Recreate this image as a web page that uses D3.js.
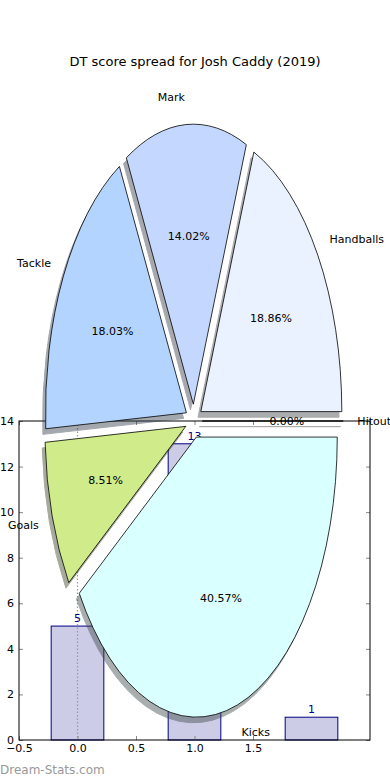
<!DOCTYPE html>
<html>
<head>
<meta charset="utf-8">
<script src="https://cdn.jsdelivr.net/npm/d3@7"></script>
<style>
  body { margin: 0; background: #fff; }
  svg { display: block; font-family: "DejaVu Sans", sans-serif; }
</style>
</head>
<body>
<div id="chart"></div>
<script>
// pie data (share of DT score, %)
var sliceLabels = ['Hitout', 'Handballs', 'Mark', 'Tackle', 'Goals', 'Kicks'];
var sliceShares = [0, 18.86, 14.02, 18.03, 8.51, 40.57];
var sliceColors = ['#ffe4e4', '#eaf1ff', '#c4d8ff', '#b3d4ff', '#d0eb8a', '#d9ffff'];

// bar data
var barX = [0, 1, 2];
var barValues = [5, 13, 1];
var xTicks = [-0.5, 0, 0.5, 1, 1.5];
var yTicks = [0, 2, 4, 6, 8, 10, 12, 14];

var width = 390, height = 780;
var svg = d3.select('#chart').append('svg').attr('width', width).attr('height', height);

svg.append('text')
    .attr('x', 195).attr('y', 66)
    .attr('text-anchor', 'middle')
    .attr('font-size', 13)
    .text('DT score spread for Josh Caddy (2019)');

//---- bar axes (drawn first, pie goes on top)
var x = d3.scaleLinear().domain([-0.5, 2.5]).range([19, 370]);
var y = d3.scaleLinear().domain([0, 14]).range([740, 421]);
var barW = 0.45;

var bars = svg.append('g');

bars.selectAll('rect.bar')
    .data(barValues)
    .enter()
    .append('rect')
    .attr('class', 'bar')
    .attr('x', function (d, i) { return x(barX[i] - barW / 2); })
    .attr('width', function () { return x(barW) - x(0); })
    .attr('y', function (d) { return y(d); })
    .attr('height', function (d) { return y(0) - y(d); })
    .attr('fill', '#ccccE6')
    .attr('stroke', '#000080')
    .attr('stroke-width', 1);

// dotted line at x=0
bars.append('line')
    .attr('x1', x(0)).attr('x2', x(0))
    .attr('y1', y(14)).attr('y2', y(0))
    .attr('stroke', '#999').attr('stroke-width', 1.2).attr('stroke-dasharray', '1.5,2');

bars.selectAll('text.val')
    .data(barValues)
    .enter()
    .append('text')
    .attr('class', 'val')
    .attr('x', function (d, i) { return x(barX[i]); })
    .attr('y', function (d) { return y(d) - 4; })
    .attr('text-anchor', 'middle')
    .attr('font-size', 11)
    .attr('fill', '#000080')
    .text(function (d) { return d; });

function styleAxis(g) {
    g.select('.domain').remove();
    g.selectAll('.tick line').attr('stroke', '#888');
    g.selectAll('.tick text').attr('font-size', 11).attr('font-family', '"DejaVu Sans", sans-serif').attr('fill', '#000');
}

var fmtX = function (d) { return d3.format('.1f')(d).replace('-', '\u2212'); };

svg.append('g').attr('transform', 'translate(0,' + y(0) + ')')
    .call(d3.axisBottom(x).tickValues(xTicks).tickFormat(fmtX).tickSizeInner(-4).tickSizeOuter(0).tickPadding(4))
    .call(styleAxis);
svg.append('g').attr('transform', 'translate(0,' + y(14) + ')')
    .call(d3.axisTop(x).tickValues(xTicks).tickFormat('').tickSizeInner(-4).tickSizeOuter(0))
    .call(styleAxis);
svg.append('g').attr('transform', 'translate(' + x(-0.5) + ',0)')
    .call(d3.axisLeft(y).tickValues(yTicks).tickSizeInner(-4).tickSizeOuter(0).tickPadding(5))
    .call(styleAxis);
svg.append('g').attr('transform', 'translate(' + x(2.5) + ',0)')
    .call(d3.axisRight(y).tickValues(yTicks).tickFormat('').tickSizeInner(-4).tickSizeOuter(0))
    .call(styleAxis);

svg.append('rect')
    .attr('x', x(-0.5)).attr('y', y(14))
    .attr('width', x(2.5) - x(-0.5)).attr('height', y(0) - y(14))
    .attr('fill', 'none').attr('stroke', '#000').attr('stroke-width', 1);

//---- pie (elliptical, exploded, with shadow)
var cx = 193.8, cy = 421, rx = 141, ry = 280;
var explode = 0.06, labelDist = 1.1, pctDist = 0.6;
var total = d3.sum(sliceShares);

var pie = d3.pie().sort(null).value(function (d) { return d; })
    .startAngle(Math.PI / 2).endAngle(Math.PI / 2 - 2 * Math.PI);
var arcs = pie(sliceShares);
var arc = d3.arc().innerRadius(0).outerRadius(1);

arcs.forEach(function (a) {
    var mid = (a.startAngle + a.endAngle) / 2;
    a.ux = Math.sin(mid);
    a.uy = -Math.cos(mid);
    a.ox = cx + explode * rx * a.ux;
    a.oy = cy + explode * ry * a.uy;
});

function shade(c) {
    var r = d3.rgb(c);
    return d3.rgb(r.r * 0.3, r.g * 0.3, r.b * 0.3).toString();
}

var pieG = svg.append('g');

pieG.selectAll('path.shadow')
    .data(arcs)
    .enter()
    .append('path')
    .attr('class', 'shadow')
    .attr('transform', function (a) {
        return 'translate(' + (a.ox - 0.02 * rx) + ',' + (a.oy + 0.02 * ry) + ') scale(' + rx + ',' + ry + ')';
    })
    .attr('d', arc)
    .attr('fill', function (a, i) { return shade(sliceColors[i]); })
    .attr('stroke', function (a, i) { return shade(sliceColors[i]); })
    .attr('vector-effect', 'non-scaling-stroke')
    .attr('opacity', 0.45);

pieG.selectAll('path.wedge')
    .data(arcs)
    .enter()
    .append('path')
    .attr('class', 'wedge')
    .attr('transform', function (a) {
        return 'translate(' + a.ox + ',' + a.oy + ') scale(' + rx + ',' + ry + ')';
    })
    .attr('d', arc)
    .attr('fill', function (a, i) { return sliceColors[i]; })
    .attr('stroke', '#000')
    .attr('stroke-width', 0.8)
    .attr('vector-effect', 'non-scaling-stroke');

pieG.selectAll('text.lbl')
    .data(arcs)
    .enter()
    .append('text')
    .attr('class', 'lbl')
    .attr('x', function (a) { return a.ox + labelDist * rx * a.ux; })
    .attr('y', function (a) { return a.oy + labelDist * ry * a.uy; })
    .attr('dy', '0.35em')
    .attr('text-anchor', function (a) { return a.ux > 0 ? 'start' : 'end'; })
    .attr('font-size', 11)
    .text(function (a, i) { return sliceLabels[i]; });

pieG.selectAll('text.pct')
    .data(arcs)
    .enter()
    .append('text')
    .attr('class', 'pct')
    .attr('x', function (a) { return a.ox + pctDist * rx * a.ux; })
    .attr('y', function (a) { return a.oy + pctDist * ry * a.uy; })
    .attr('dy', '0.35em')
    .attr('text-anchor', 'middle')
    .attr('font-size', 11)
    .text(function (a) { return d3.format('.2f')(a.value / total * 100) + '%'; });

svg.append('text')
    .attr('x', 0).attr('y', 774)
    .attr('font-size', 12)
    .attr('fill', '#999')
    .text('Dream-Stats.com');
</script>
</body>
</html>
